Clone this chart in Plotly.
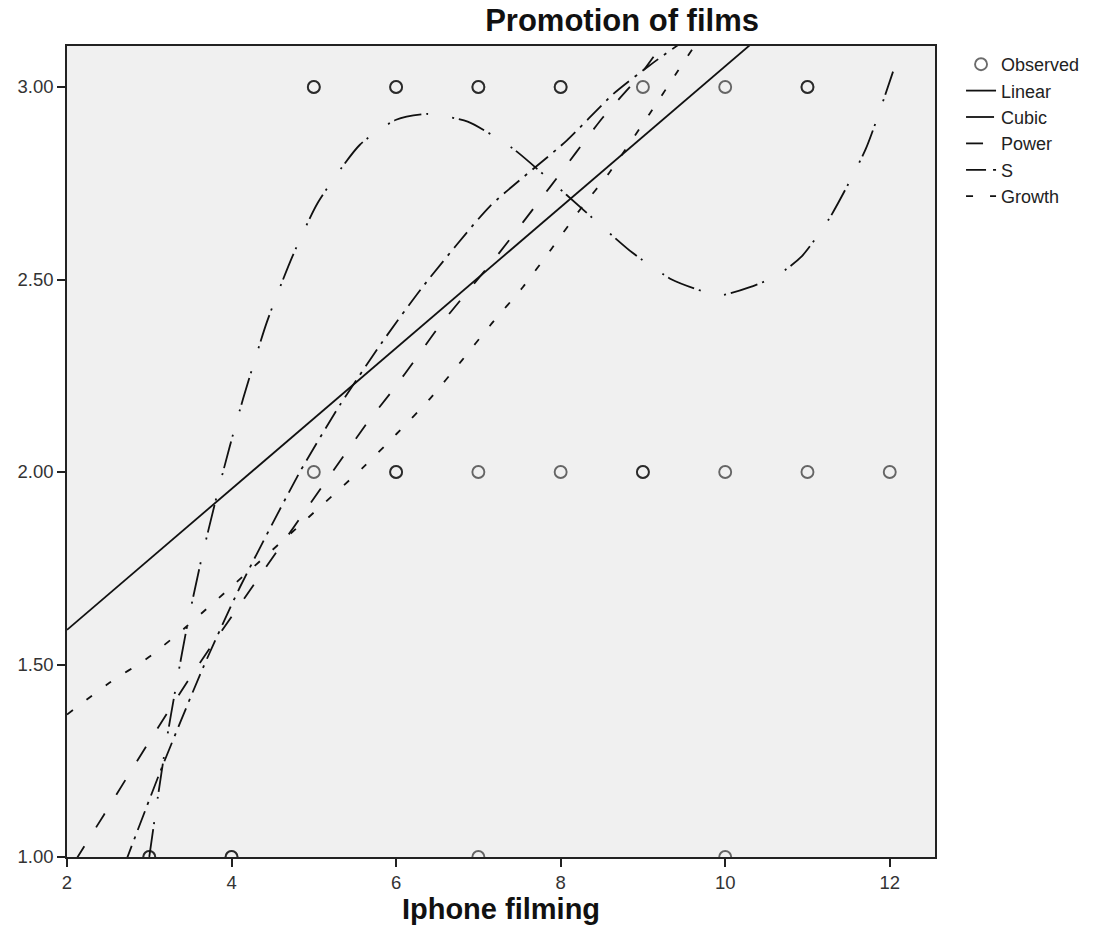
import plotly.graph_objects as go

# ---- Observed data (duplicates = multiple observations at same point) ----
obs_x = [5, 5, 6, 6, 7, 7, 8, 8, 9, 10, 11, 11,
         5, 6, 6, 7, 8, 9, 9, 10, 11, 12,
         3, 3, 4, 4, 7, 10]
obs_y = [3, 3, 3, 3, 3, 3, 3, 3, 3, 3, 3, 3,
         2, 2, 2, 2, 2, 2, 2, 2, 2, 2,
         1, 1, 1, 1, 1, 1]

# ---- Fitted curves ----
linear_x = [2.0, 10.35]
linear_y = [1.59, 3.118]

cubic_x = [3.0, 3.1, 3.2, 3.33, 3.46, 3.63, 3.8, 3.97, 4.14, 4.43, 4.74, 5.05, 5.56,
           6.0, 6.37, 6.87, 7.42, 8.07, 8.87, 9.35, 9.72, 9.97, 10.3, 10.63,
           10.93, 11.27, 11.71, 12.04]
cubic_y = [1.00, 1.15, 1.29, 1.45, 1.60, 1.77, 1.92, 2.06, 2.19, 2.39, 2.56, 2.70, 2.85,
           2.915, 2.93, 2.91, 2.84, 2.72, 2.57, 2.50, 2.47, 2.46, 2.48, 2.51,
           2.56, 2.66, 2.84, 3.04]

power_x = [2.1, 2.45, 3.0, 3.57, 5.64, 5.95, 6.26, 6.53, 7.22, 7.87, 8.51, 8.96, 9.3]
power_y = [0.99, 1.11, 1.30, 1.49, 2.125, 2.21, 2.30, 2.38, 2.56, 2.74, 2.92, 3.03, 3.13]

s_x = [2.7, 3.13, 3.65, 4.10, 4.83, 5.32, 5.84, 6.32, 7.14, 8.07, 8.63, 9.08, 9.5]
s_y = [0.98, 1.22, 1.49, 1.70, 2.00, 2.175, 2.34, 2.48, 2.69, 2.86, 2.98, 3.056, 3.12]

growth_x = [2.0, 2.5, 3.0, 3.46, 5.59, 6.01, 6.41, 6.80, 7.14, 7.54, 7.89,
            8.23, 8.60, 9.08, 9.42, 9.7]
growth_y = [1.37, 1.45, 1.52, 1.60, 2.01, 2.10, 2.19, 2.29, 2.38, 2.48, 2.58,
            2.68, 2.78, 2.93, 3.04, 3.13]

x_ticks = [2, 4, 6, 8, 10, 12]
y_ticks = [1.0, 1.5, 2.0, 2.5, 3.0]

FONT = "Liberation Sans, Arial, sans-serif"
LC = "#111111"
LW = 1.8

fig = go.Figure()

fig.add_trace(go.Scatter(
    x=obs_x, y=obs_y, mode="markers", name="Observed", legendgroup="a",
    marker=dict(symbol="circle-open", size=12, color="rgba(0,0,0,0.58)",
                line=dict(width=1.9)),
))

curves = [
    ("Linear", linear_x, linear_y, "solid", "b"),
    ("Cubic", cubic_x, cubic_y, "28px,5px,2px,24px,2px,5px", "c"),
    ("Power", power_x, power_y, "17px,22px", "d"),
    ("S", s_x, s_y, "20px,7px,3px,7px", "e"),
    ("Growth", growth_x, growth_y, "7px,17px", "f"),
]
for name, xs, ys, dash, grp in curves:
    fig.add_trace(go.Scatter(
        x=xs, y=ys, mode="lines", name=name, legendgroup=grp,
        line=dict(color=LC, width=LW, dash=dash, shape="spline", smoothing=0.6),
    ))

axis_common = dict(
    showgrid=False, zeroline=False, showline=True, mirror=True,
    linecolor="#222222", linewidth=1.5, ticks="outside", ticklen=8,
    tickwidth=1.5, tickcolor="#222222",
    tickfont=dict(family=FONT, size=18.5, color="#333333"),
)

fig.update_layout(
    width=1101, height=949,
    margin=dict(l=67, r=166, t=46, b=92, autoexpand=False),
    paper_bgcolor="white",
    plot_bgcolor="#f0f0f0",
    title=dict(text="<b>Promotion of films</b>", x=0.565, xanchor="center",
               y=0.979, yanchor="middle",
               font=dict(family=FONT, size=31, color="#111111")),
    xaxis=dict(range=[2, 12.55], tickvals=x_ticks, **axis_common,
               title=dict(text="<b>Iphone filming</b>", standoff=2,
                          font=dict(family=FONT, size=29, color="#111111"))),
    yaxis=dict(range=[1.0, 3.1065], tickvals=y_ticks, tickformat=".2f",
               **axis_common),
    legend=dict(x=1.03, xanchor="left", y=1.0, yanchor="top",
                font=dict(family=FONT, size=18, color="#222222"),
                bgcolor="rgba(0,0,0,0)", tracegroupgap=0),
    showlegend=True,
)

fig.write_html("out.html")
